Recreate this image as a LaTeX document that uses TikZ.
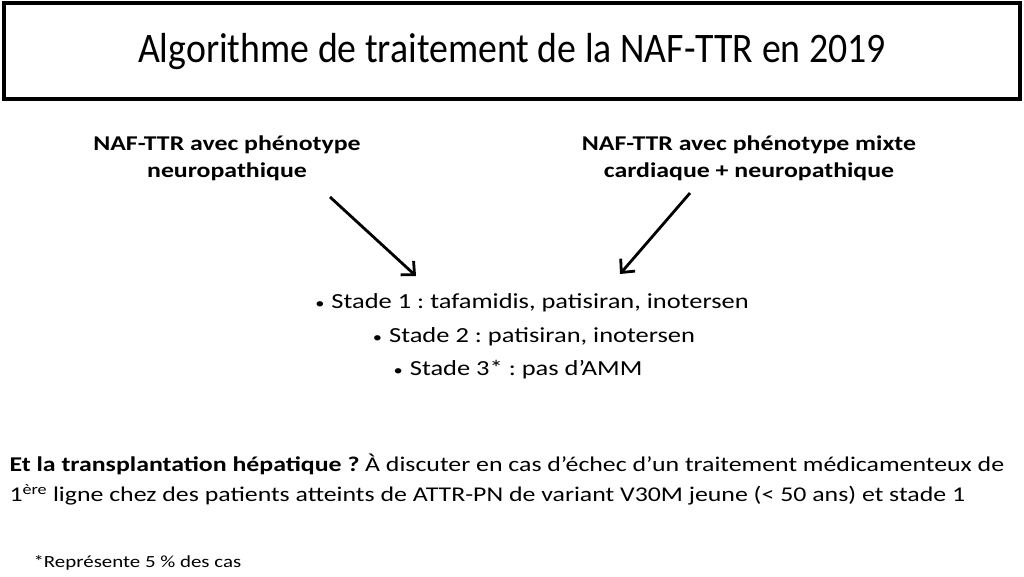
\documentclass[tikz,border=0pt]{standalone}
\usepackage{fontspec}
\setmainfont{Carlito}
\newfontfamily\widefont[FakeStretch=1.23]{Carlito}
\newfontfamily\titlefont[FakeStretch=0.9]{Carlito}
\usetikzlibrary{arrows.meta}
\frenchspacing
\newcommand{\smbul}{{\fontsize{15}{15}\selectfont•}\hspace{7pt}}
\begin{document}
\begin{tikzpicture}[x=1pt,y=-1pt,
  heading/.style={font=\widefont\fontsize{21}{27}\selectfont\bfseries, align=center},
  bullet/.style={font=\widefont\fontsize{21.5}{26}\selectfont, anchor=center},
  arr/.style={line width=2.8pt, -{Straight Barb[length=10pt,width=19pt,line width=2.8pt]}},
  body/.style={font=\widefont\fontsize{21}{30}\selectfont, align=left, anchor=west}]
\useasboundingbox (0,0) rectangle (1024,576);
\fill[white] (0,0) rectangle (1024,576);
\draw[line width=3.5pt] (4,3) rectangle (1020,99);
\node[font=\titlefont\fontsize{42}{48}\selectfont] (title) at (512,52) {Algorithme de traitement de la NAF-TTR en 2019};
\node[heading] (h1) at (227,158) {NAF-TTR avec phénotype\\neuropathique};
\node[heading] (h2) at (749,158) {NAF-TTR avec phénotype mixte\\cardiaque + neuropathique};
\node[bullet] (b1) at (532,303) {\smbul Stade 1 : tafamidis, patisiran, inotersen};
\node[bullet] (b2) at (534,337) {\smbul Stade 2 : patisiran, inotersen};
\node[bullet] (b3) at (518,370) {\smbul Stade 3* : pas d’AMM};
\coordinate (a1s) at (330,197);
\coordinate (a1e) at (416,276);
\coordinate (a2s) at (690,193);
\coordinate (a2e) at (620,274);
\draw[arr] (a1s) -- (a1e);
\draw[arr] (a2s) -- (a2e);
\node[body] (t1) at (6,480) {\textbf{Et la transplantation hépatique ?} À discuter en cas d’échec d’un traitement médicamenteux de\\1\textsuperscript{ère} ligne chez des patients atteints de ATTR-PN de variant V30M jeune (< 50 ans) et stade 1};
\node[font=\widefont\fontsize{17}{20}\selectfont, anchor=west] (fn) at (30,563) {*Représente 5 \% des cas};
\end{tikzpicture}
\end{document}
